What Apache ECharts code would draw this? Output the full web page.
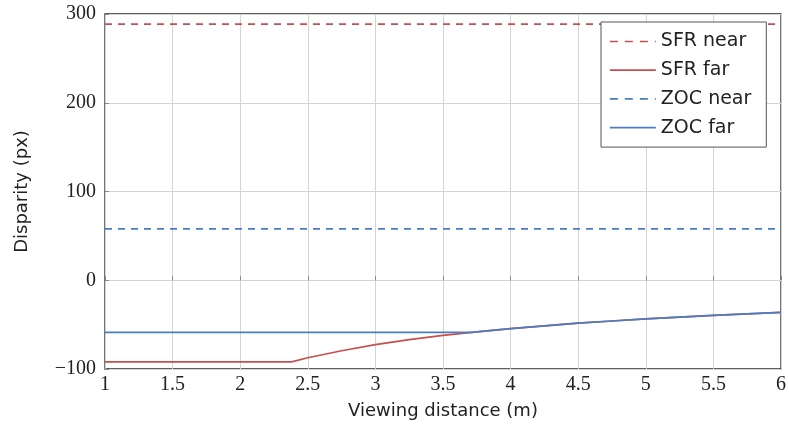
<!DOCTYPE html>
<html>
<head>
<meta charset="utf-8">
<script src="https://cdn.jsdelivr.net/npm/echarts@6/dist/echarts.min.js"></script>
<style>
  html, body { margin: 0; padding: 0; background: #fff; }
  #chart { width: 789px; height: 429px; }
</style>
</head>
<body>
<div id="chart"></div>
<script>
// values
const xTicks = [1, 1.5, 2, 2.5, 3, 3.5, 4, 4.5, 5, 5.5, 6]
const yTicks = [-100, 0, 100, 200, 300]

const sfrNear = 288.5
const zocNear = 58

const sfrFarX = [1, 2.38, 2.5, 2.75, 3, 3.25, 3.5, 3.75, 4, 4.25, 4.5, 4.75, 5, 5.25, 5.5, 5.75, 6]
const sfrFarY = [-92, -92, -87.3, -79.4, -72.6, -67, -62.2, -58.1, -54.5, -51.3, -48.4, -45.9, -43.6, -41.5, -39.6, -37.9, -36.3]

const zocFarX = [1, 3.71, 3.75, 4, 4.25, 4.5, 4.75, 5, 5.25, 5.5, 5.75, 6]
const zocFarY = [-58.8, -58.8, -58.1, -54.5, -51.3, -48.4, -45.9, -43.6, -41.5, -39.6, -37.9, -36.3]

const legendNames = ['SFR near', 'SFR far', 'ZOC near', 'ZOC far']

const red = '#c4504f'
const blue = '#4a7ec3'
const sans = '"DejaVu Sans", sans-serif'
const serif = '"Liberation Serif", "DejaVu Serif", serif'
const dash = [7, 6]

function pairs(xs, ys) {
  return xs.map((x, i) => [x, ys[i]])
}

function flat(v) {
  return [[xTicks[0], v], [xTicks[xTicks.length - 1], v]]
}

function lineSeries(name, data, color, dashed) {
  return {
    name: name,
    type: 'line',
    data: data,
    symbol: 'none',
    silent: true,
    animation: false,
    lineStyle: { color: color, width: 1.7, type: dashed ? dash : 'solid' },
    itemStyle: { color: color }
  }
}

const chart = echarts.init(document.getElementById('chart'), null, { renderer: 'canvas' })

chart.setOption({
  backgroundColor: '#fff',
  animation: false,
  grid: {
    left: 105, right: 8, top: 14, bottom: 60,
    show: true, borderColor: '#2a2a2a', borderWidth: 1.3, backgroundColor: 'transparent'
  },
  xAxis: {
    type: 'value',
    min: xTicks[0], max: xTicks[xTicks.length - 1], interval: 0.5,
    name: 'Viewing distance (m)',
    nameLocation: 'middle', nameGap: 33,
    nameTextStyle: { fontFamily: sans, fontSize: 18, color: '#222' },
    axisLine: { show: false },
    axisTick: { show: true, inside: true, length: 4, lineStyle: { color: '#888' } },
    axisLabel: { fontFamily: serif, fontSize: 20, color: '#222', margin: 6 },
    splitLine: { show: true, lineStyle: { color: '#d4d4d4', width: 1 } }
  },
  yAxis: {
    type: 'value',
    min: yTicks[0], max: yTicks[yTicks.length - 1], interval: 100,
    name: 'Disparity (px)',
    nameLocation: 'middle', nameGap: 74, nameRotate: 90,
    nameTextStyle: { fontFamily: sans, fontSize: 18, color: '#222' },
    axisLine: { show: false },
    axisTick: { show: true, inside: true, length: 4, lineStyle: { color: '#888' } },
    axisLabel: {
      fontFamily: serif, fontSize: 20, color: '#222', margin: 9,
      formatter: v => (v < 0 ? '\u2212' + Math.abs(v) : String(v))
    },
    splitLine: { show: true, lineStyle: { color: '#d4d4d4', width: 1 } }
  },
  legend: {
    orient: 'vertical',
    left: 601, top: 22,
    itemWidth: 46, itemHeight: 14, itemGap: 9.7,
    padding: [10, 15, 10, 8],
    backgroundColor: '#fff',
    borderColor: '#555', borderWidth: 1, borderRadius: 0,
    itemStyle: { opacity: 0 },
    textStyle: { fontFamily: sans, fontSize: 19, color: '#222', lineHeight: 19 },
    data: legendNames.map(n => ({
      name: n,
      lineStyle: { width: 1.7, type: n.endsWith('near') ? [8, 7] : 'solid' }
    }))
  },
  series: [
    lineSeries(legendNames[0], flat(sfrNear), red, true),
    lineSeries(legendNames[1], pairs(sfrFarX, sfrFarY), red, false),
    lineSeries(legendNames[2], flat(zocNear), blue, true),
    lineSeries(legendNames[3], pairs(zocFarX, zocFarY), blue, false)
  ]
})
</script>
</body>
</html>
